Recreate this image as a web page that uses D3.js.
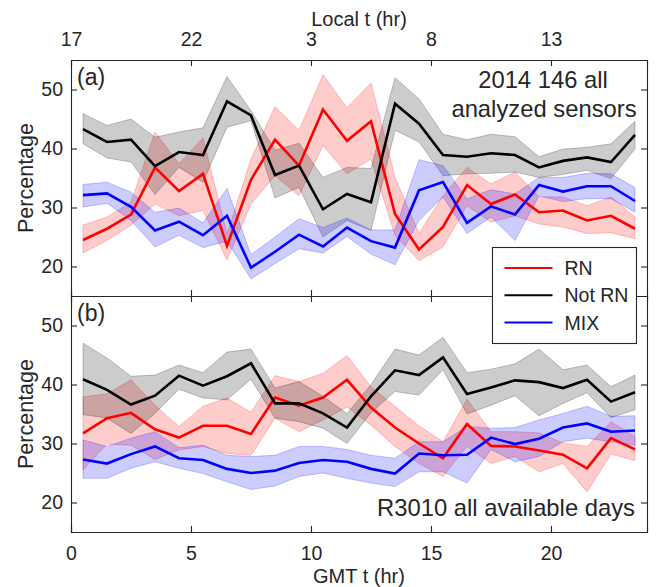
<!DOCTYPE html>
<html><head><meta charset="utf-8">
<script src="https://cdn.jsdelivr.net/npm/d3@7"></script>
<style>
body{margin:0;background:#fff;}
text{font-family:"Liberation Sans",Arial,Helvetica,sans-serif;fill:#262626;}
</style></head>
<body><svg id="c" width="658" height="587"></svg>
<script>
const hoursGMT = [0.5,1.5,2.5,3.5,4.5,5.5,6.5,7.5,8.5,9.5,10.5,11.5,12.5,13.5,14.5,15.5,16.5,17.5,18.5,19.5,20.5,21.5,22.5,23.5];
const gmtTicks = [0,5,10,15,20];
const localTickLabels = ["17","22","3","8","13"];
const yTicks = [20,30,40,50];
const seriesNames = ["RN","Not RN","MIX"];
const seriesColors = ["#ff0000","#000000","#0000ff"];

// Panel (a)
const aRN     = [24.5,26.4,28.8,36.8,32.8,35.7,23.5,34.7,41.5,37.1,46.6,41.3,44.6,28.9,22.9,26.7,33.8,30.6,32.2,29.2,29.5,27.8,28.6,26.4];
const aRNHi   = [27.0,28.4,30.9,42.8,37.4,41.8,25.5,38.2,47.1,43.1,52.5,46.9,51.1,35.1,25.6,32.0,36.8,34.0,36.0,31.8,31.8,30.3,31.8,28.4];
const aRNLo   = [22.3,24.4,27.0,30.6,28.6,29.5,21.1,30.6,35.4,32.0,40.5,35.7,38.2,25.3,21.0,23.3,30.3,27.5,28.6,27.2,26.7,25.6,25.7,24.7];
const aNot    = [43.3,41.1,41.5,37.0,39.4,38.9,48.0,45.6,35.5,37.1,29.7,32.3,30.9,47.6,44.2,38.9,38.6,39.2,38.9,36.8,37.9,38.5,37.7,42.3];
const aNotHi  = [45.9,43.9,45.0,41.9,42.8,43.5,52.2,46.4,39.7,40.9,35.1,36.8,36.6,52.0,48.4,42.4,41.5,42.4,42.0,38.6,39.9,40.2,40.8,44.6];
const aNotLo  = [40.8,38.4,37.7,32.2,36.8,34.3,43.6,44.7,31.6,33.4,25.0,27.8,26.1,43.1,41.1,35.4,35.7,35.8,36.0,35.1,35.6,36.3,34.9,39.9];
const aMIX    = [32.1,32.4,30.1,26.1,27.6,25.3,28.6,19.8,22.5,25.4,23.4,26.6,24.3,23.2,32.9,34.3,27.4,30.2,28.8,33.8,32.7,33.6,33.6,31.1];
const aMIXHi  = [33.9,34.3,32.6,29.2,29.9,27.4,33.2,22.0,25.0,28.1,26.6,28.2,26.2,26.2,38.1,37.1,31.5,33.0,32.3,35.1,35.1,35.8,35.7,33.4];
const aMIXLo  = [30.1,30.7,27.8,23.3,25.3,23.2,24.3,17.9,20.5,23.0,22.3,25.1,22.1,20.3,27.8,31.8,25.6,28.4,24.4,32.0,31.0,31.5,31.5,29.2];

// Panel (b)
const bRN     = [31.7,34.3,35.2,32.4,31.0,33.0,33.0,31.6,37.8,36.4,37.8,40.8,36.1,32.7,30.0,27.5,33.3,29.6,29.5,28.8,28.1,25.8,30.9,29.0];
const bRNHi   = [37.9,38.4,40.8,36.5,32.9,36.3,37.7,35.3,41.5,40.5,41.9,44.9,39.6,36.3,33.0,30.3,37.5,32.0,32.0,31.8,30.1,29.5,33.7,31.2];
const bRNLo   = [25.5,29.9,29.7,27.3,28.9,29.5,28.3,28.0,34.3,32.0,34.0,36.2,33.1,29.5,26.6,24.4,29.5,26.6,27.8,25.2,26.6,21.8,28.2,27.1];
const bNot    = [40.9,39.1,36.6,38.1,41.5,39.8,41.4,43.6,36.8,36.8,35.1,32.7,38.0,42.4,41.6,44.6,38.4,39.5,40.7,40.4,39.4,40.8,37.1,38.7];
const bNotHi  = [47.0,44.5,41.4,41.6,43.3,42.0,45.5,46.0,39.4,40.5,38.0,35.1,40.0,46.0,45.0,48.0,42.0,42.6,43.5,46.0,42.5,43.3,39.6,41.6];
const bNotLo  = [34.9,34.3,31.7,35.1,39.2,37.7,37.4,40.9,34.3,33.7,32.6,30.0,35.2,38.8,38.2,42.5,35.0,36.5,38.1,34.7,36.8,38.6,34.4,35.7];
const bMIX    = [27.3,26.6,28.2,29.5,27.5,27.2,25.7,25.0,25.4,26.7,27.2,26.9,25.7,24.9,28.3,28.0,28.1,31.0,29.9,30.8,32.7,33.4,32.0,32.2];
const bMIXHi  = [30.6,29.5,30.9,32.0,29.3,29.7,28.0,27.8,28.0,29.5,29.5,29.0,28.0,27.5,30.3,30.3,32.9,32.6,32.7,34.0,35.1,36.3,34.6,34.7];
const bMIXLo  = [24.1,24.1,25.8,26.9,25.8,24.9,23.5,22.2,22.8,24.4,25.0,24.1,23.3,22.7,25.2,25.2,23.3,29.0,26.9,27.8,30.3,30.9,30.3,29.7];

const panels = [
  {label:"(a)", top:60, bottom:296, series:[[aRN,aRNHi,aRNLo],[aNot,aNotHi,aNotLo],[aMIX,aMIXHi,aMIXLo]]},
  {label:"(b)", top:296, bottom:532, series:[[bRN,bRNHi,bRNLo],[bNot,bNotHi,bNotLo],[bMIX,bMIXHi,bMIXLo]]}
];

const svg = d3.select("#c");
const x = d3.scaleLinear().domain([0,24]).range([71,647]);
const axisCol = "#262626";
const tickFont = "19.5px";

panels.forEach((p,pi)=>{
  const y = d3.scaleLinear().domain([15,55]).range([p.bottom,p.top]);
  const g = svg.append("g");
  const clipId = "clip"+pi;
  svg.append("clipPath").attr("id",clipId).append("rect")
    .attr("x",71).attr("y",p.top).attr("width",576).attr("height",p.bottom-p.top);
  const plot = g.append("g").attr("clip-path",`url(#${clipId})`);
  const area = d3.area().x((d,i)=>x(hoursGMT[i])).y0(d=>y(d[1])).y1(d=>y(d[0]));
  const line = d3.line().x((d,i)=>x(hoursGMT[i])).y(d=>y(d));
  p.series.forEach((s,si)=>{
    const pts = s[1].map((v,i)=>[v,s[2][i]]);
    plot.append("path").attr("d",area(pts))
      .attr("fill",seriesColors[si]).attr("fill-opacity",0.2)
      .attr("stroke",seriesColors[si]).attr("stroke-opacity",0.28).attr("stroke-width",0.8);
  });
  p.series.forEach((s,si)=>{
    plot.append("path").attr("d",line(s[0]))
      .attr("fill","none").attr("stroke",seriesColors[si]).attr("stroke-width",2.6)
      .attr("stroke-linejoin","miter");
  });
  // axes
  const left = d3.axisLeft(y).tickValues(yTicks).tickSize(-6).tickPadding(8);
  const right = d3.axisRight(y).tickValues(yTicks).tickSize(-6).tickFormat("");
  const bottom = d3.axisBottom(x).tickValues(gmtTicks).tickSize(-6).tickPadding(14);
  const top = d3.axisTop(x).tickValues(gmtTicks).tickSize(-6);
  const ga = g.append("g").attr("transform","translate(71,0)").call(left);
  g.append("g").attr("transform","translate(647,0)").call(right);
  const gb = g.append("g").attr("transform",`translate(0,${p.bottom})`).call(bottom);
  const gt = g.append("g").attr("transform",`translate(0,${p.top})`).call(top);
  if(pi===0){
    gb.selectAll("text").remove();
    gt.call(d3.axisTop(x).tickValues(gmtTicks).tickSize(-6).tickPadding(14).tickFormat((d,i)=>localTickLabels[i]));
  } else {
    gt.selectAll("text").remove();
  }
  [ga,gb,gt].forEach(a=>a.selectAll("text").style("font-size",tickFont).attr("fill",axisCol));
  g.selectAll(".domain").attr("stroke",axisCol).attr("stroke-width",1.1);
  g.selectAll(".tick line").attr("stroke",axisCol).attr("stroke-width",1.1);
  g.append("text").attr("x",77).attr("y",p.top+25).style("font-size","23px").text(p.label);
  g.append("text").attr("transform",`translate(33,${(p.top+p.bottom)/2}) rotate(-90)`)
    .attr("text-anchor","middle").style("font-size","21.5px").text("Percentage");
});

// annotations
svg.append("text").attr("x",543).attr("y",88).attr("text-anchor","middle").style("font-size","23.8px").text("2014 146 all");
svg.append("text").attr("x",544).attr("y",117).attr("text-anchor","middle").style("font-size","23.8px").text("analyzed sensors");
svg.append("text").attr("x",635).attr("y",516).attr("text-anchor","end").style("font-size","23.8px").text("R3010 all available days");

// axis titles
svg.append("text").attr("x",359).attr("y",26).attr("text-anchor","middle").style("font-size","20px").text("Local t (hr)");
svg.append("text").attr("x",359).attr("y",583).attr("text-anchor","middle").style("font-size","20px").text("GMT t (hr)");

// legend
const lg = svg.append("g").attr("transform","translate(492.5,247.5)");
lg.append("rect").attr("width",144).attr("height",96).attr("fill","#fff").attr("stroke",axisCol).attr("stroke-width",1.1);
seriesNames.forEach((n,i)=>{
  const yy = 20.5 + i*27.3;
  lg.append("line").attr("x1",12).attr("x2",60).attr("y1",yy).attr("y2",yy)
    .attr("stroke",seriesColors[i]).attr("stroke-width",2);
  lg.append("text").attr("x",72).attr("y",yy+7).style("font-size","19.5px").text(n);
});
</script></body></html>
